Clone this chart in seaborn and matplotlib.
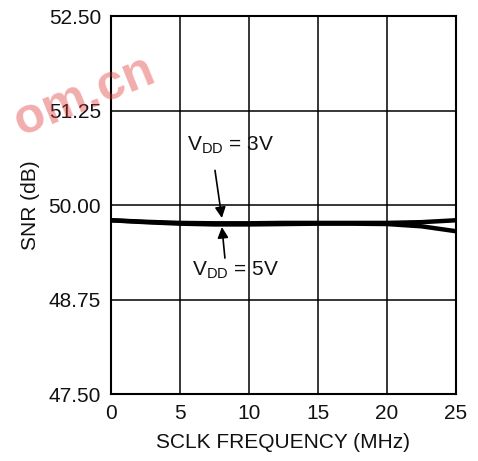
import matplotlib
matplotlib.use("Agg")
import matplotlib.pyplot as plt
import seaborn as sns
import pandas as pd

freq = [0, 2.5, 5, 7.5, 10, 12.5, 15, 17.5, 20, 22.5, 25]
snr_3v = [49.80, 49.78, 49.765, 49.76, 49.76, 49.765, 49.765, 49.765, 49.765, 49.775, 49.80]
snr_5v = [49.80, 49.775, 49.755, 49.745, 49.745, 49.75, 49.755, 49.755, 49.75, 49.72, 49.655]
xticks = [0, 5, 10, 15, 20, 25]
yticks = [47.50, 48.75, 50.00, 51.25, 52.50]

df = pd.DataFrame({
    "freq": freq * 2,
    "snr": snr_3v + snr_5v,
    "vdd": ["3V"] * len(freq) + ["5V"] * len(freq),
})

sns.set_style("white")
plt.rcParams["font.family"] = ["Liberation Sans", "DejaVu Sans"]

fig = plt.figure(figsize=(4.78, 4.61), dpi=100)
ax = fig.add_axes([0.232, 0.145, 0.722, 0.82])

fig.text(0.015, 0.79, "om.cn", fontsize=36, fontweight="bold", color="#e03030",
         alpha=0.4, rotation=22, ha="left", va="center", zorder=0)

sns.lineplot(data=df, x="freq", y="snr", units="vdd", estimator=None,
             color="black", lw=3.2, ax=ax, legend=False)

fs = 15
ax.set_xlim(0, 25)
ax.set_ylim(47.5, 52.5)
ax.set_xticks(xticks)
ax.set_yticks(yticks)
ax.set_xticklabels([str(t) for t in xticks], fontsize=fs)
ax.set_yticklabels([f"{t:.2f}" for t in yticks], fontsize=fs)
ax.tick_params(length=0, pad=7, colors="#111111")
ax.grid(True, color="black", lw=1.1)
for s in ax.spines.values():
    s.set_color("black")
    s.set_linewidth(1.5)
ax.set_xlabel("SCLK FREQUENCY (MHz)", fontsize=fs, labelpad=7, color="#111111")
ax.set_ylabel("SNR (dB)", fontsize=fs, labelpad=6, color="#111111")

ax.text(8.7, 50.79, r"$\mathregular{V_{DD}}$ = 3V", ha="center", va="center",
        fontsize=fs, color="#111111")
ax.text(9.06, 49.14, r"$\mathregular{V_{DD}}$ = 5V", ha="center", va="center",
        fontsize=fs, color="#111111")
arrow = dict(arrowstyle="-|>", color="black", lw=1.2, mutation_scale=16,
             shrinkA=0, shrinkB=0)
ax.annotate("", xy=(8.04, 49.83), xytext=(7.54, 50.46), arrowprops=arrow)
ax.annotate("", xy=(8.04, 49.71), xytext=(8.26, 49.30), arrowprops=arrow)

fig.savefig("out.png", dpi=100)
